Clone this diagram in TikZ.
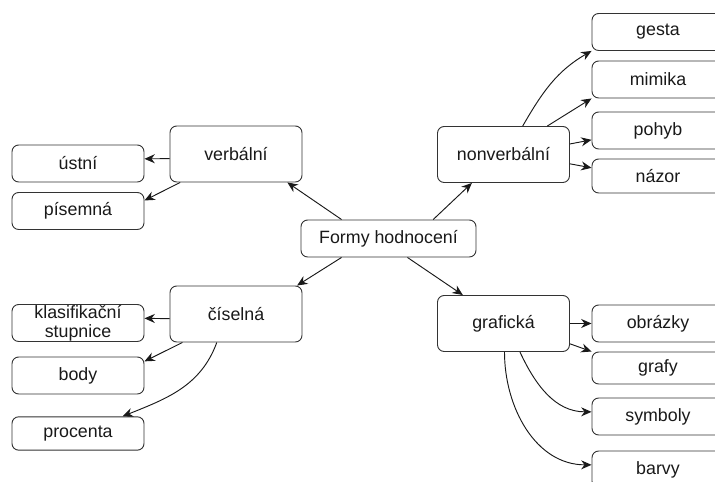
\documentclass[tikz,border=0pt]{standalone}
\usepackage{fontspec}
\setmainfont{Liberation Sans}
\usetikzlibrary{arrows.meta}

\begin{document}
\begin{tikzpicture}[x=0.03cm, y=0.03cm,
	box/.style={draw=black!80, line width=0.8pt, rounded corners=2mm, minimum width=3.96cm, minimum height=1.11cm, inner sep=0pt, align=center, text=black!90, font=\fontsize{15.2}{16.5}\selectfont},
	bigbox/.style={box, minimum height=1.68cm},
	arr/.style={-{Stealth[length=3.1mm, width=2.7mm]}, line width=0.8pt, draw=black!90}]
	\useasboundingbox (0,0) rectangle (715,482);
	\clip (0,0) rectangle (715,482);
	
	\node [box, minimum width=5.25cm] (form) at (388.5,243.5) {Formy hodnocení};
	
	\node [bigbox] (verb) at (236,328) {verbální};
	\node [box] (ustni) at (78,318.5) {ústní};
	\node [box] (pis) at (78,271) {písemná};
	
	\node [bigbox] (nonverb) at (503.5,327.5) {nonverbální};
	\node [box] (gesta) at (658,450) {gesta};
	\node [box] (mimika) at (658,402.5) {mimika};
	\node [box] (pohyb) at (658,351.5) {pohyb};
	\node [box, minimum height=1.02cm] (nazor) at (658,306) {názor};
	
	\node [bigbox] (cis) at (236,168) {číselná};
	\node [box] (klas) at (78,159) {klasifikační\\stupnice};
	\node [box] (body) at (78,106.5) {body};
	\node [box, minimum height=1cm] (proc) at (78,48.5) {procenta};
	
	\node [bigbox] (graf) at (503.5,158.5) {grafická};
	\node [box] (obr) at (658,158.5) {obrázky};
	\node [box, minimum height=0.96cm] (grafy) at (658,114) {grafy};
	\node [box] (symb) at (658,65.5) {symboly};
	\node [box] (barvy) at (658,12.5) {barvy};
	
	% od stredu
	\draw [arr] (form.158) -- (verb.-29);
	\draw [arr] (form.23) -- (nonverb.-138);
	\draw [arr] (form.-158) -- (cis.25);
	\draw [arr] (form.-45) -- (graf.145);
	
	% verbalni
	\draw [arr] (verb.184) -- (ustni.4);
	\draw [arr] (verb.-153) -- (pis.9);
	
	% nonverbalni
	\draw [arr] (nonverb.56) to [out=60, in=-150] (gesta.south west);
	\draw [arr] (nonverb.33) -- (mimika.south west);
	\draw [arr] (nonverb.9) -- (pohyb.188);
	\draw [arr] (nonverb.-8) -- (nazor.173);
	
	% ciselna
	\draw [arr] (cis.184) -- (klas.4);
	\draw [arr] (cis.-152) -- (body.12);
	\draw [arr] (cis.-124) to [out=-110, in=22] (proc.21);
	
	% graficka
	\draw [arr] (graf.east) -- (obr.west);
	\draw [arr] (graf.-17) -- (grafy.north west);
	\draw [arr] (graf.-60) to [out=-65, in=180] (symb.176);
	\draw [arr] (graf.-88) to [out=-90, in=180] (barvy.176);
\end{tikzpicture}
\end{document}
